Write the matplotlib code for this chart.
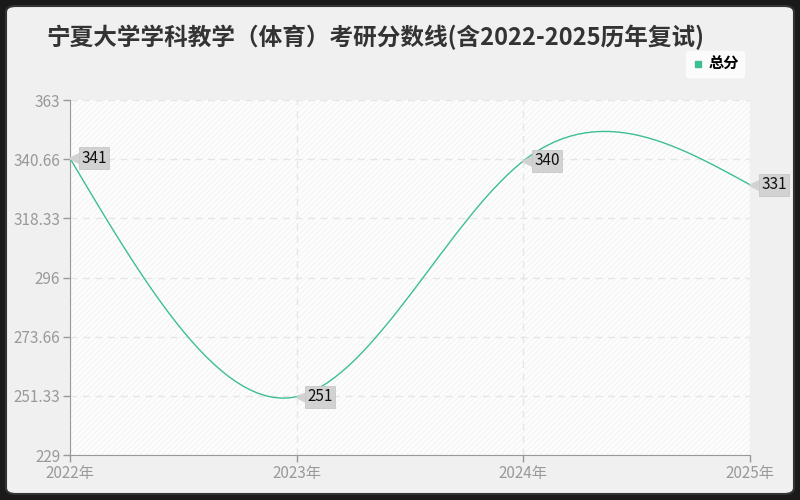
import matplotlib
matplotlib.use("Agg")
import matplotlib.pyplot as plt
import matplotlib.transforms as mtransforms
import numpy as np
from matplotlib.patches import FancyBboxPatch, Rectangle

plt.rcParams['font.family'] = ['Noto Sans CJK SC', 'DejaVu Sans']

years = [2022, 2023, 2024, 2025]
scores = [341, 251, 340, 331]
year_labels = ["2022年", "2023年", "2024年", "2025年"]
y_ticks = [229, 251.33, 273.66, 296, 318.33, 340.66, 363]
y_tick_labels = ["229", "251.33", "273.66", "296", "318.33", "340.66", "363"]
title = "宁夏大学学科教学（体育）考研分数线(含2022-2025历年复试)"
series_name = "总分"

line_color = "#3dbf8f"


def natural_spline(xs, ys, n=30):
    # natural cubic spline, only for drawing the smooth line
    xs = np.asarray(xs, float)
    ys = np.asarray(ys, float)
    k = len(xs)
    h = np.diff(xs)
    A = np.zeros((k, k))
    b = np.zeros(k)
    A[0, 0] = 1
    A[-1, -1] = 1
    for i in range(1, k - 1):
        A[i, i - 1] = h[i - 1]
        A[i, i] = 2 * (h[i - 1] + h[i])
        A[i, i + 1] = h[i]
        b[i] = 6 * ((ys[i + 1] - ys[i]) / h[i] - (ys[i] - ys[i - 1]) / h[i - 1])
    M = np.linalg.solve(A, b)
    px, py = [], []
    for i in range(k - 1):
        t = np.linspace(0, 1, n, endpoint=(i == k - 2))
        x = xs[i] + t * h[i]
        a = 1 - t
        y = (a * ys[i] + t * ys[i + 1]
             + ((a ** 3 - a) * M[i] + (t ** 3 - t) * M[i + 1]) * h[i] ** 2 / 6)
        px.extend(x)
        py.extend(y)
    return np.array(px), np.array(py)


fig = plt.figure(figsize=(8, 5), dpi=100)
fig.patch.set_facecolor("#1a1a1a")
frame = FancyBboxPatch((6 / 800, 6 / 500), 788 / 800, 488 / 500,
                       boxstyle="round,pad=0,rounding_size=0.012",
                       transform=fig.transFigure, fc="#f0f0f0",
                       ec="#333333", lw=1.5, zorder=-10)
fig.patches.append(frame)

ax = fig.add_axes([70 / 800, 45 / 500, 680 / 800, 355 / 500])
ax.set_facecolor("#fdfdfd")
plt.rcParams['hatch.linewidth'] = 0.6
ax.add_patch(Rectangle((0, 0), 1, 1, transform=ax.transAxes, fill=False,
                       hatch="//////", edgecolor="#f1f1f1", lw=0, zorder=0))

sx, sy = natural_spline(years, scores)
ax.plot(sx, sy, color=line_color, lw=1.0, zorder=3)

for x, y in zip(years, scores):
    shift = mtransforms.ScaledTranslation(7 / fig.dpi, 0, fig.dpi_scale_trans)
    ax.plot([x], [y], marker="<", markersize=12, color="#d2d2d2",
            markeredgecolor="#d2d2d2", transform=ax.transData + shift,
            zorder=5, clip_on=False)
    ax.annotate(str(y), (x, y), xytext=(8, 0), textcoords="offset points",
                ha="left", va="center", fontsize=11,
                color="#111111",
                bbox=dict(boxstyle="square,pad=0.15", fc="#d2d2d2",
                          ec="#c8c8c8", lw=0.6),
                zorder=6, annotation_clip=False)

ax.set_xlim(2022, 2025)
ax.set_ylim(229, 363)
ax.set_xticks(years)
ax.set_xticklabels(year_labels)
ax.set_yticks(y_ticks)
ax.set_yticklabels(y_tick_labels)
ax.tick_params(colors="#999999", labelcolor="#999999", labelsize=11,
               length=5, width=1, pad=2)
ax.grid(True, color="#e6e6e6", linestyle=(0, (5, 4)), lw=1)
for side in ["top", "right"]:
    ax.spines[side].set_visible(False)
for side in ["left", "bottom"]:
    ax.spines[side].set_color("#999999")

fig.text(46 / 800, 1 - 37 / 500, title, fontsize=17, fontweight="bold",
         color="#333333", va="center", ha="left")

handle = plt.Line2D([], [], marker="s", color=line_color, lw=0, markersize=5)
leg = fig.legend([handle], [series_name], loc="upper right",
                 bbox_to_anchor=(752 / 800, 1 - 43 / 500),
                 prop={"size": 11, "weight": "bold"},
                 frameon=True, handletextpad=0.3, borderpad=0.35,
                 handlelength=0.8, fancybox=True)
leg.get_frame().set_facecolor("white")
leg.get_frame().set_edgecolor("white")

fig.savefig("out.png", dpi=100, facecolor=fig.get_facecolor())
